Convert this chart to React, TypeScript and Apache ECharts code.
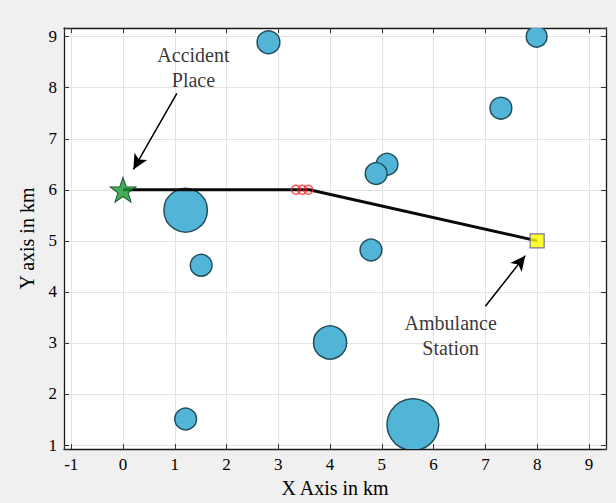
import React, { useEffect, useRef } from "react";
import * as echarts from "echarts";

// Obstacles: [x km, y km, radius km]
const obstacles: number[][] = [
  [2.81, 8.89, 0.22],
  [7.99, 9.0, 0.2],
  [7.3, 7.6, 0.21],
  [5.1, 6.5, 0.21],
  [4.89, 6.32, 0.21],
  [1.21, 5.6, 0.42],
  [1.51, 4.52, 0.21],
  [4.79, 4.82, 0.21],
  [4.0, 3.01, 0.32],
  [1.21, 1.51, 0.21],
  [5.6, 1.4, 0.5],
];

const routePath: number[][] = [
  [0, 6],
  [3.6, 6],
  [8, 5],
];

const waypoints: number[][] = [
  [3.34, 6],
  [3.46, 6],
  [3.58, 6],
];

const accidentPlace: number[] = [0, 6];
const ambulanceStation: number[] = [8, 5];

const accidentArrow: number[][] = [
  [1.04, 7.89],
  [0.2, 6.4],
];
const ambulanceArrow: number[][] = [
  [7.0, 3.72],
  [7.77, 4.71],
];

const annotations: (number | string)[][] = [
  [1.36, 8.4, "Accident\nPlace"],
  [6.33, 3.15, "Ambulance\nStation"],
];

const xRange = [-1.14, 9.33];
const yRange = [0.92, 9.17];

const FONT = "Liberation Serif";

const STAR =
  "path://M0,-10 L2.35,-3.24 L9.51,-3.09 L3.8,1.24 L5.88,8.09 L0,4 L-5.88,8.09 L-3.8,1.24 L-9.51,-3.09 L-2.35,-3.24 Z";

const intFormatter = (v: number) =>
  Math.abs(v - Math.round(v)) < 1e-6 ? String(Math.round(v)) : "";

export default function App() {
  const ref = useRef<HTMLDivElement>(null);
  useEffect(() => {
    if (!ref.current) return;
    const chart = echarts.init(ref.current, null, { renderer: "svg" });
    const tickStyle = { show: true, inside: true, length: 5, lineStyle: { color: "#333", width: 1 } };
    const axisLine = { show: true, onZero: false, lineStyle: { color: "#1a1a1a", width: 1.3 } };
    chart.setOption({
      animation: false,
      backgroundColor: "#f0f0f0",
      grid: {
        left: 64,
        right: 10,
        top: 28,
        bottom: 49,
        show: true,
        backgroundColor: "#ffffff",
        borderWidth: 0,
      },
      xAxis: [
        {
          type: "value",
          min: xRange[0],
          max: xRange[1],
          splitNumber: 10,
          position: "bottom",
          axisLine,
          axisTick: tickStyle,
          axisLabel: {
            formatter: intFormatter,
            color: "#000",
            fontFamily: FONT,
            fontSize: 17,
            margin: 7,
          },
          splitLine: { show: true, lineStyle: { color: "#e3e3e3", width: 1 } },
          name: "X Axis in km",
          nameLocation: "middle",
          nameGap: 26,
          nameTextStyle: { color: "#000", fontFamily: FONT, fontSize: 20 },
        },
        {
          type: "value",
          min: xRange[0],
          max: xRange[1],
          splitNumber: 10,
          position: "top",
          axisLine,
          axisTick: tickStyle,
          axisLabel: { show: false },
          splitLine: { show: false },
        },
      ],
      yAxis: [
        {
          type: "value",
          min: yRange[0],
          max: yRange[1],
          splitNumber: 8,
          position: "left",
          axisLine,
          axisTick: tickStyle,
          axisLabel: {
            formatter: intFormatter,
            color: "#000",
            fontFamily: FONT,
            fontSize: 17,
            margin: 7,
          },
          splitLine: { show: true, lineStyle: { color: "#e3e3e3", width: 1 } },
          name: "Y axis in km",
          nameLocation: "middle",
          nameGap: 27,
          nameTextStyle: { color: "#000", fontFamily: FONT, fontSize: 20 },
        },
        {
          type: "value",
          min: yRange[0],
          max: yRange[1],
          splitNumber: 8,
          position: "right",
          axisLine,
          axisTick: tickStyle,
          axisLabel: { show: false },
          splitLine: { show: false },
        },
      ],
      series: [
        {
          type: "custom",
          xAxisIndex: 0,
          yAxisIndex: 0,
          clip: true,
          encode: { x: 0, y: 1 },
          data: obstacles,
          renderItem: (params: any, api: any) => {
            const c = api.coord([api.value(0), api.value(1)]);
            const s = api.size([api.value(2), api.value(2)]);
            return {
              type: "circle",
              shape: { cx: c[0], cy: c[1], r: s[0] },
              style: { fill: "#52b5d8", stroke: "#234f5c", lineWidth: 1.5 },
            };
          },
        },
        {
          type: "line",
          data: routePath,
          symbol: "none",
          lineStyle: { color: "#0a0a0a", width: 3 },
          z: 3,
        },
        {
          type: "scatter",
          data: waypoints,
          symbol: "circle",
          symbolSize: 9,
          itemStyle: { color: "rgba(255,255,255,0)", borderColor: "#ff2020", borderWidth: 1.5 },
          z: 4,
        },
        {
          type: "scatter",
          data: [accidentPlace],
          symbol: STAR,
          symbolSize: [26, 25],
          itemStyle: { color: "#16982f", borderColor: "#0a3312", borderWidth: 1 },
          z: 5,
        },
        {
          type: "scatter",
          data: [ambulanceStation],
          symbol: "rect",
          symbolSize: 14,
          itemStyle: { color: "#ffff00", borderColor: "#5a4fa0", borderWidth: 1.2 },
          z: 5,
        },
        {
          type: "scatter",
          data: annotations,
          symbolSize: 0,
          z: 6,
          label: {
            show: true,
            position: "inside",
            formatter: (p: any) => p.value[2],
            color: "#000",
            fontFamily: FONT,
            fontSize: 20,
            lineHeight: 25,
            align: "center",
            verticalAlign: "middle",
          },
          markLine: {
            silent: true,
            symbol: ["none", "arrow"],
            symbolSize: [11, 15],
            label: { show: false },
            lineStyle: { color: "#000", width: 1.5, type: "solid" },
            data: [
              [{ coord: accidentArrow[0] }, { coord: accidentArrow[1] }],
              [{ coord: ambulanceArrow[0] }, { coord: ambulanceArrow[1] }],
            ],
          },
        },
      ],
    });
    return () => chart.dispose();
  }, []);
  return <div ref={ref} style={{ width: 616, height: 503, position: "absolute", left: 0, top: 0 }} />;
}
